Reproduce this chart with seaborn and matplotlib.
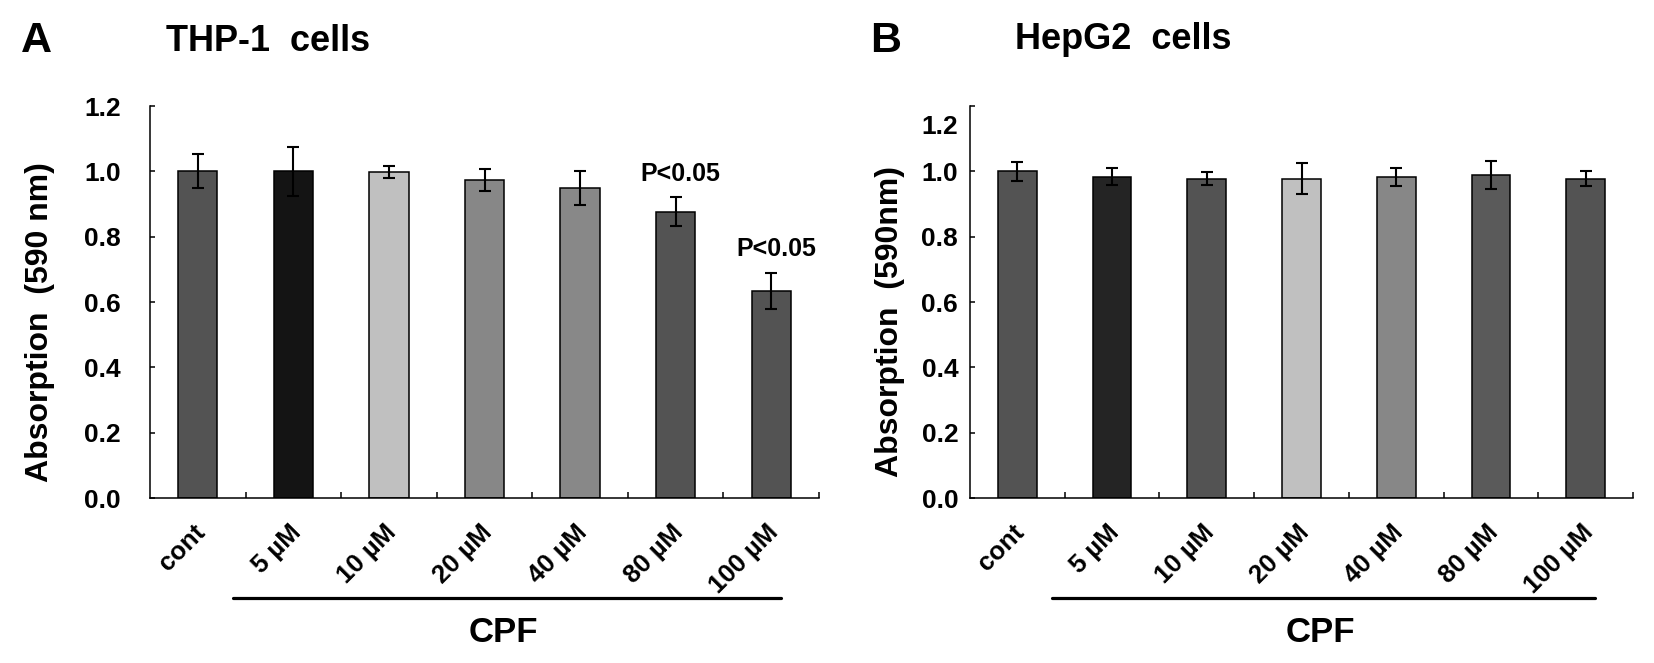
import numpy as np
import pandas as pd
import seaborn as sns
import matplotlib.pyplot as plt
from matplotlib.transforms import ScaledTranslation, blended_transform_factory

# data
doses = ['cont', '5 µM', '10 µM', '20 µM', '40 µM', '80 µM', '100 µM']

thp1_mean = [1.00, 1.00, 0.998, 0.974, 0.949, 0.877, 0.634]
thp1_err = [0.052, 0.075, 0.019, 0.033, 0.052, 0.044, 0.055]
thp1_colors = ['#535353', '#141414', '#c0c0c0', '#878787', '#888888', '#535353', '#535353']
thp1_sig = ['', '', '', '', '', 'P<0.05', 'P<0.05']

hepg2_mean = [1.00, 0.984, 0.978, 0.978, 0.983, 0.988, 0.978]
hepg2_err = [0.030, 0.026, 0.020, 0.048, 0.027, 0.043, 0.022]
hepg2_colors = ['#535353', '#242424', '#535353', '#c0c0c0', '#878787', '#5a5a5a', '#535353']

yticks = [0.0, 0.2, 0.4, 0.6, 0.8, 1.0, 1.2]

sns.set_style('white')
plt.rcParams['font.family'] = ['Liberation Sans', 'DejaVu Sans']
plt.rcParams['font.weight'] = 'bold'
for k in ['text.color', 'axes.labelcolor', 'xtick.color', 'ytick.color']:
    plt.rcParams[k] = 'black'

W, H = 1654, 663
fig = plt.figure(figsize=(W / 100, H / 100), dpi=100)


def draw_panel(ax, means, errs, colors, ylabel, ypad, ylab_x):
    df = pd.DataFrame({'dose': doses, 'absorption': means})
    sns.barplot(data=df, x='dose', y='absorption', hue='dose', palette=colors,
                legend=False, width=0.41, edgecolor='black', linewidth=1.1,
                errorbar=None, saturation=1, ax=ax)
    ax.errorbar(np.arange(len(doses)), means, yerr=errs, fmt='none',
                ecolor='black', elinewidth=1.5, capsize=4, capthick=1.5)

    ax.set_xlim(-0.5, len(doses) - 0.5)
    ax.set_ylim(0, 1.2)
    ax.set_yticks(yticks)
    ax.set_yticklabels([f'{t:.1f}' for t in yticks], fontsize=19, fontweight='bold')
    ax.tick_params(axis='y', left=True, direction='in', length=3.5, width=1.1,
                   pad=ypad, colors='black')

    # category labels at bar centres, tick marks between bars
    ax.set_xticks(np.arange(len(doses)))
    ax.set_xticklabels(doses, rotation=45, ha='right', va='top',
                       fontsize=18.5, fontweight='bold')
    ax.set_xticks(np.arange(len(doses)) + 0.5, minor=True)
    ax.tick_params(axis='x', which='major', bottom=True, length=0, pad=16)
    ax.tick_params(axis='x', which='minor', bottom=True, direction='in',
                   length=4.5, width=1.1, color='black')
    shift = ScaledTranslation(12 / 100, 0, fig.dpi_scale_trans)
    for lab in ax.get_xticklabels():
        lab.set_transform(lab.get_transform() + shift)

    ax.set_xlabel('')
    ax.set_ylabel(ylabel, fontsize=23, fontweight='bold')
    ax.yaxis.set_label_coords(ylab_x, 0.45)

    sns.despine(ax=ax)
    for s in ['left', 'bottom']:
        ax.spines[s].set_color('black')
        ax.spines[s].set_linewidth(1.1)

    # CPF bracket line under the treated groups
    tr = blended_transform_factory(ax.transData, ax.transAxes)
    ax.plot([0.37, 6.1], [-0.255, -0.255], color='black', lw=2.3,
            transform=tr, clip_on=False)
    ax.text(3.2, -0.367, 'CPF', transform=tr, ha='center', va='baseline',
            fontsize=25, fontweight='bold')


axA = fig.add_axes([150 / W, 165 / H, 669 / W, 392 / H])
draw_panel(axA, thp1_mean, thp1_err, thp1_colors, 'Absorption  (590 nm)', 21, -0.142)
for i, s in enumerate(thp1_sig):
    if s:
        axA.text(i + 0.05, thp1_mean[i] + thp1_err[i] + 0.035, s, ha='center',
                 va='bottom', fontsize=18, fontweight='bold')

axB = fig.add_axes([970 / W, 165 / H, 663 / W, 392 / H])
draw_panel(axB, hepg2_mean, hepg2_err, hepg2_colors, 'Absorption  (590nm)', 8.5, -0.098)
# the top label sits a little lower in the original
top = axB.get_yticklabels()[-1]
top.set_transform(top.get_transform() + ScaledTranslation(0, -19 / 100, fig.dpi_scale_trans))

fig.text(21 / W, 1 - 52 / H, 'A', fontsize=31, fontweight='bold', va='baseline')
fig.text(166 / W, 1 - 51 / H, 'THP-1  cells', fontsize=26, fontweight='bold', va='baseline')
fig.text(870 / W, 1 - 52 / H, 'B', fontsize=31, fontweight='bold', va='baseline')
fig.text(1015 / W, 1 - 49 / H, 'HepG2  cells', fontsize=26, fontweight='bold', va='baseline')

fig.savefig('out.png', dpi=100)
